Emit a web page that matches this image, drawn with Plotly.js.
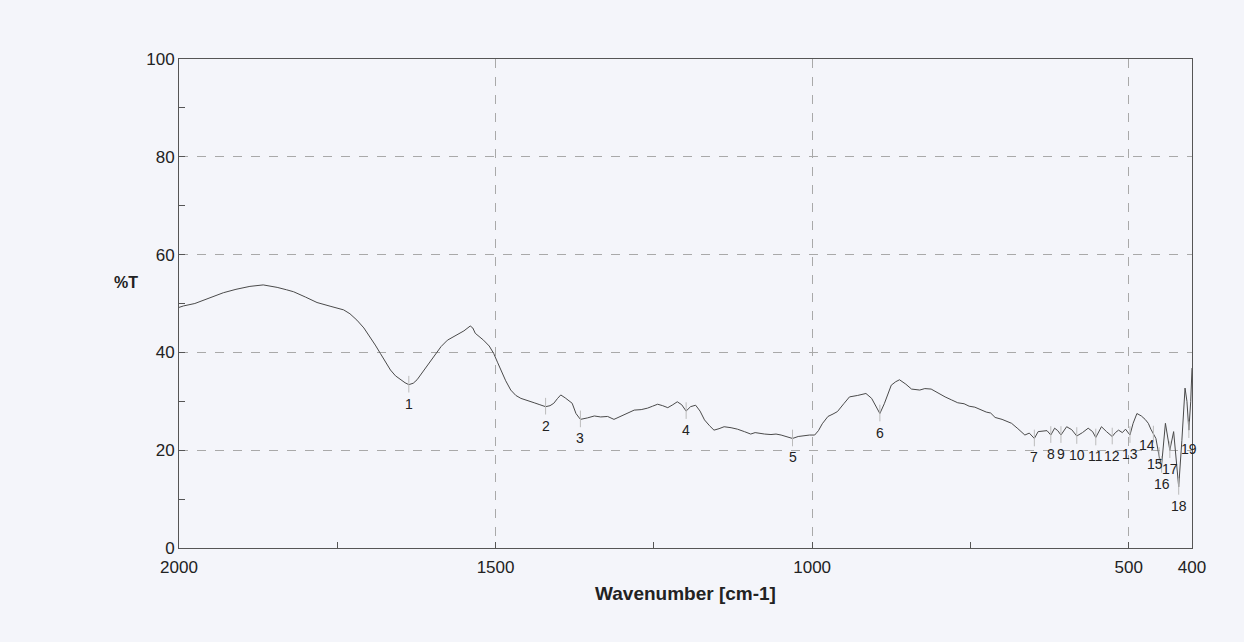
<!DOCTYPE html>
<html>
<head>
<meta charset="utf-8">
<script src="https://cdn.plot.ly/plotly-3.0.1.min.js"></script>
<style>
html,body{margin:0;padding:0;background:#f4f5fa;}
#chart{width:1244px;height:642px;}
</style>
</head>
<body>
<div id="chart"></div>
<script>
// Spectrum data
const wavenumber = [2000,1993,1975,1962,1945,1930,1910,1888,1867,1845,1830,1819,1800,1782,1760,1740,1730,1719,1708,1698,1690,1682,1674,1666,1658,1650,1643,1637,1630,1624,1612,1598,1586,1576,1561,1550,1540,1536,1532,1519,1510,1503,1497,1492,1484,1476,1468,1460,1450,1439,1430,1421,1414,1408,1402,1397,1390,1384,1379,1373,1366,1355,1344,1334,1323,1313,1300,1290,1281,1270,1260,1252,1244,1236,1228,1220,1213,1206,1199,1192,1184,1177,1170,1162,1155,1147,1139,1128,1118,1107,1097,1090,1082,1075,1065,1057,1049,1040,1031,1022,1012,1004,996,990,984,975,967,960,950,941,928,915,906,899,893,886,880,875,868,862,852,843,830,822,812,800,790,780,770,760,752,743,735,725,718,711,700,693,685,675,664,657,649,643,636,629,623,617,612,607,598,590,582,573,564,557,552,543,535,526,521,516,510,505,498,493,487,480,474,469,465,461,457,452,448,442,435,429,421,416,411,408,405,402,400];
const transmittance = [49.2,49.5,50.0,50.6,51.5,52.2,52.9,53.5,53.8,53.3,52.8,52.4,51.3,50.2,49.4,48.7,47.9,46.6,45.0,43.2,41.5,39.8,38.0,36.4,35.2,34.4,33.8,33.4,33.7,34.4,36.6,39.1,41.2,42.5,43.6,44.4,45.4,45.0,43.9,42.5,41.3,39.8,38.0,36.4,34.2,32.3,31.2,30.6,30.1,29.7,29.3,28.9,29.1,29.6,30.6,31.3,30.7,30.0,29.6,27.5,26.3,26.6,27.0,26.8,26.9,26.3,27.1,27.8,28.2,28.3,28.6,29.0,29.4,29.1,28.7,29.3,29.9,29.3,28.0,28.9,29.2,28.0,26.2,25.0,24.1,24.4,24.8,24.6,24.3,23.8,23.3,23.6,23.4,23.3,23.2,23.3,23.1,22.8,22.4,22.8,23.0,23.1,23.1,24.0,25.4,26.9,27.4,27.9,29.5,30.9,31.2,31.6,30.6,29.0,27.5,29.5,31.8,33.3,34.0,34.4,33.5,32.5,32.3,32.6,32.5,31.6,30.9,30.3,29.7,29.5,29.0,28.8,28.3,27.8,27.6,26.7,26.3,26.0,25.5,24.4,23.1,23.5,22.4,23.8,23.9,24.0,23.1,24.5,24.0,23.1,24.8,24.2,22.9,23.6,24.5,23.8,22.6,24.8,23.8,22.8,23.6,24.1,23.6,24.3,23.1,25.5,27.5,27.0,26.3,25.5,24.3,23.2,22.4,18.8,17.0,25.5,20.0,23.8,12.5,22.0,32.7,30.0,24.1,30.0,36.8];

// Peak picks
const peakLabels = ["1","2","3","4","5","6","7","8","9","10","11","12","13","14","15","16","17","18","19"];
const peakWn = [1637,1421,1366,1199,1031,893,649,623,607,582,552,526,498,461,452,448,435,421,405];
const peakT  = [33.4,28.9,26.3,28.0,22.4,27.5,22.4,23.1,23.1,22.9,22.6,22.8,23.1,23.2,18.8,17.0,20.0,12.5,24.1];

const xTickVals = [2000,1500,1000,500,400];
const yTickVals = [0,20,40,60,80,100];

// label offsets (px) for crowded labels
const labelShift = {"14":[-6,10],"15":[-4,8]};

const textColor = '#222';
const lineColor = '#4a4a4a';
const gridColor = '#a9a9a9';

const annotations = peakLabels.map((lab,i)=>{
  const s = labelShift[lab] || [0,19];
  return {x:peakWn[i], y:peakT[i], xref:'x', yref:'y', text:lab, showarrow:false,
    xshift:s[0], yshift:-s[1], font:{family:'Liberation Sans, Arial, sans-serif', size:14, color:textColor},
    xanchor:'center', yanchor:'middle'};
});
annotations.push({xref:'paper', yref:'paper', x:-0.052, y:0.542, text:'<b>%T</b>', showarrow:false,
  font:{family:'Liberation Sans, Arial, sans-serif', size:16, color:textColor}, xanchor:'center', yanchor:'middle'});

const shapes = peakLabels.map((lab,i)=>({type:'line', xref:'x', yref:'y',
  x0:peakWn[i], x1:peakWn[i], y0:peakT[i]-1.6, y1:peakT[i]+1.8,
  line:{color:'#bbb', width:1}}));

const trace = {x:wavenumber, y:transmittance, type:'scatter', mode:'lines',
  line:{color:lineColor, width:1}, hoverinfo:'skip'};

const layout = {
  width:1244, height:642,
  margin:{l:179, r:52, t:59, b:94},
  paper_bgcolor:'#f4f5fa', plot_bgcolor:'#f4f5fa',
  showlegend:false,
  font:{family:'Liberation Sans, Arial, sans-serif', color:textColor},
  xaxis:{range:[2000,400], tickmode:'array', tickvals:xTickVals, ticktext:xTickVals.map(String),
    ticks:'inside', ticklen:6, tickcolor:'#555', showline:true, linecolor:'#555', linewidth:1, mirror:true,
    showgrid:true, gridcolor:gridColor, griddash:'dash', gridwidth:1, zeroline:false,
    ticklabelstandoff:4,
    tickfont:{size:17, color:textColor},
    minor:{tickmode:'linear', tick0:0, dtick:250, ticks:'inside', ticklen:6, tickcolor:'#555', showgrid:false},
    title:{text:'<b>Wavenumber [cm-1]</b>', font:{size:19, color:textColor}, standoff:10}},
  yaxis:{range:[0,100], tickmode:'array', tickvals:yTickVals, ticktext:yTickVals.map(String),
    ticks:'inside', ticklen:6, tickcolor:'#555', showline:true, linecolor:'#555', linewidth:1, mirror:true,
    showgrid:true, gridcolor:gridColor, griddash:'dash', gridwidth:1, zeroline:false,
    tickfont:{size:17, color:textColor},
    minor:{tickmode:'linear', tick0:0, dtick:10, ticks:'inside', ticklen:6, tickcolor:'#555', showgrid:false}},
  annotations:annotations,
  shapes:shapes
};

Plotly.newPlot('chart', [trace], layout, {displayModeBar:false, staticPlot:true});
</script>
</body>
</html>
